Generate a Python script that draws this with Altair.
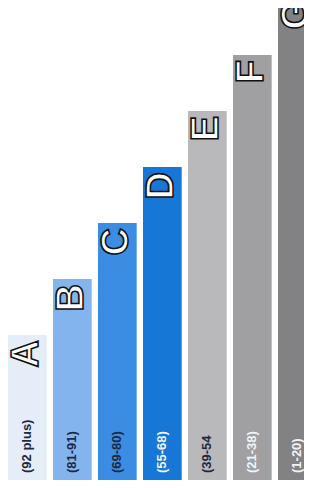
import altair as alt
import pandas as pd

ratings = ["A", "B", "C", "D", "E", "F", "G"]
ranges = ["(92 plus)", "(81-91)", "(69-80)", "(55-68)", "(39-54", "(21-38)", "(1-20)"]
heights = [145, 201, 257, 313, 369, 425, 485]
colors = ["#e4edf8", "#84b4ee", "#3b8de4", "#1677d6", "#b9b9bc", "#a0a0a3", "#828285"]
label_colors = ["#1e2840", "#1e2840", "#1e2840", "#f2f4f8", "#1e2840", "#f2f4f8", "#f2f4f8"]

df = pd.DataFrame({
    "rating": ratings,
    "range": ranges,
    "h": heights,
    "idx": list(range(len(ratings))),
    "color": colors,
    "lcolor": label_colors,
})
df["x0"] = df["idx"]
df["x1"] = df["idx"] + 0.86
df["xc"] = df["idx"] + 0.43

xs = alt.Scale(domain=[0, 6.578], nice=False, zero=False)
ys = alt.Scale(domain=[0, 472], nice=False)

base = alt.Chart(df)

bars = base.mark_rect(clip=True).encode(
    x=alt.X("x0:Q", scale=xs, axis=None),
    x2="x1:Q",
    y=alt.Y("h:Q", scale=ys, axis=None),
    y2=alt.datum(0),
    color=alt.Color("color:N", scale=None),
)

letters = base.mark_text(
    angle=270, align="right", baseline="middle", dx=-5,
    fontSize=38, fontWeight="bold", font="Liberation Sans",
    fill="white", stroke="#111111", strokeWidth=1.6, clip=True,
).encode(
    x=alt.X("xc:Q", scale=xs, axis=None),
    y=alt.Y("h:Q", scale=ys, axis=None),
    text="rating:N",
)

labels = base.mark_text(
    angle=270, align="left", baseline="middle", dx=7,
    fontSize=13, fontWeight="bold", font="Liberation Sans",
).encode(
    x=alt.X("xc:Q", scale=xs, axis=None),
    y=alt.datum(0, scale=ys),
    text="range:N",
    color=alt.Color("lcolor:N", scale=None),
)

chart = alt.layer(bars, letters, labels).properties(
    width=296, height=472, padding=0, autosize=alt.AutoSizeParams(type="none")
).configure_view(strokeWidth=0, stroke="transparent")

chart.save("out.html", embed_options={"renderer": "svg", "actions": False})
